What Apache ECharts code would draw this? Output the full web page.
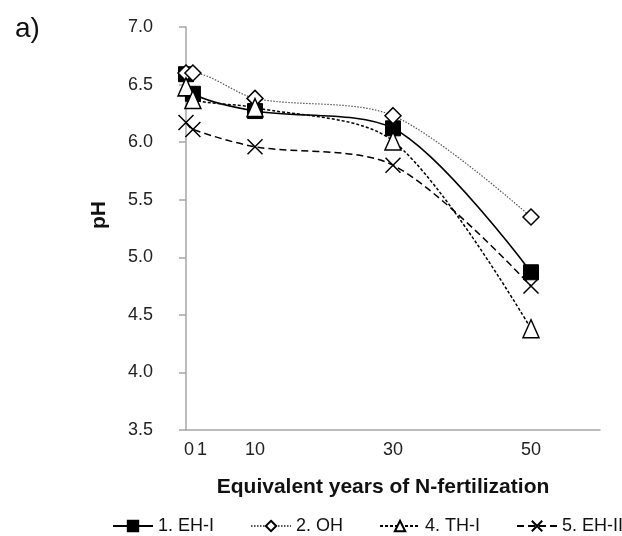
<!DOCTYPE html>
<html>
<head>
<meta charset="utf-8">
<script src="https://cdn.jsdelivr.net/npm/echarts@6/dist/echarts.min.js"></script>
<style>
  html, body { margin: 0; padding: 0; background: #fff; }
  #chart { width: 622px; height: 536px; }
</style>
</head>
<body>
<div id="chart"></div>
<script>
// values
const years = [0, 1, 10, 30, 50];
const xTickLabels = [0, 1, 10, 30, 50];
const ehI = [6.59, 6.42, 6.27, 6.12, 4.87];
const oh = [6.60, 6.60, 6.38, 6.23, 5.35];
const thI = [6.48, 6.37, 6.30, 6.01, 4.38];
const ehII = [6.17, 6.11, 5.96, 5.80, 4.75];
const seriesNames = ['1. EH-I', '2. OH', '4. TH-I', '5. EH-II'];

const font = 'Liberation Sans, Arial, sans-serif';
const pairs = vals => years.map((x, i) => [x, vals[i]]);

const chart = echarts.init(document.getElementById('chart'));

const openItem = { color: '#fff', borderColor: '#000', borderWidth: 1.5 };

chart.setOption({
  animation: false,
  textStyle: { fontFamily: font },
  title: [
    { text: 'a)', left: 10, top: 10, textStyle: { fontSize: 28, fontWeight: 'normal', color: '#111', fontFamily: font } },
    { text: 'Equivalent years of N-fertilization', left: 378, top: 472, textAlign: 'center',
      textStyle: { fontSize: 21, fontWeight: 'bold', color: '#111', fontFamily: font } }
  ],
  graphic: [{
    type: 'text', x: 99, y: 215, rotation: Math.PI / 2,
    style: { text: 'pH', font: 'bold 21px ' + font, fill: '#111', align: 'center', verticalAlign: 'middle' }
  }],
  grid: { left: 186, right: 22, top: 27, bottom: 106 },
  legend: {
    data: seriesNames,
    left: 107, top: 512, width: 515,
    itemWidth: 40, itemHeight: 13, itemGap: 36,
    textStyle: { fontSize: 18, color: '#111', fontFamily: font }
  },
  xAxis: {
    type: 'value', min: 0, max: 60,
    axisLine: { lineStyle: { color: '#a6a6a6', width: 1.5 } },
    axisTick: { show: false },
    splitLine: { show: false },
    axisLabel: {
      customValues: xTickLabels,
      fontSize: 18, color: '#222', margin: 11,
      formatter: v => v === 0 ? '{a|0}' : v === 1 ? '{b|1}' : String(v),
      rich: {
        a: { fontSize: 18, color: '#222', padding: [0, 0, 0, 6] },
        b: { fontSize: 18, color: '#222', padding: [0, 0, 0, 18] }
      }
    }
  },
  yAxis: {
    type: 'value', min: 3.5, max: 7.0, interval: 0.5,
    axisLine: { show: true, lineStyle: { color: '#a6a6a6', width: 1.5 } },
    axisTick: { show: true, inside: false, length: 7, lineStyle: { color: '#a6a6a6', width: 1.5 } },
    splitLine: { show: false },
    axisLabel: { fontSize: 18, color: '#222', margin: 33, formatter: v => v.toFixed(1) }
  },
  series: [
    {
      name: '1. EH-I', type: 'line', z: 3, smooth: 0.3,
      data: pairs(ehI),
      symbol: 'rect', symbolSize: 15,
      itemStyle: { color: '#000', borderColor: '#000', borderWidth: 1 },
      lineStyle: { color: '#000', width: 1.6, type: 'solid' }
    },
    {
      name: '2. OH', type: 'line', z: 4, smooth: 0.3,
      data: pairs(oh),
      symbol: 'diamond', symbolSize: 16,
      itemStyle: openItem,
      lineStyle: { color: '#555', width: 1.2, type: [1.5, 1.5] }
    },
    {
      name: '4. TH-I', type: 'line', z: 5, smooth: 0.3,
      data: pairs(thI),
      symbol: 'triangle', symbolSize: [16, 18],
      itemStyle: openItem,
      lineStyle: { color: '#000', width: 1.5, type: [3, 2] }
    },
    {
      name: '5. EH-II', type: 'line', z: 2, smooth: 0.3,
      data: pairs(ehII),
      symbol: 'path://M0,0L10,10M10,0L0,10', symbolSize: 15, symbolKeepAspect: true,
      itemStyle: { color: 'none', borderColor: '#000', borderWidth: 1.5 },
      lineStyle: { color: '#000', width: 1.5, type: [7, 4] }
    }
  ]
});
</script>
</body>
</html>
